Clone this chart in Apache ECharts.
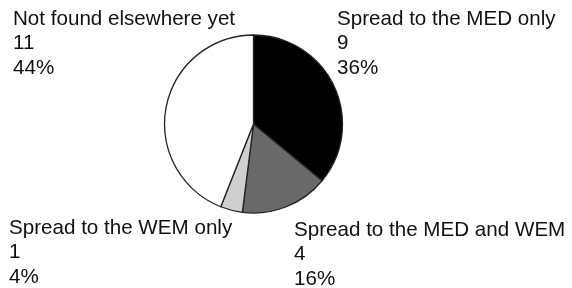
<!DOCTYPE html>
<html>
<head>
<meta charset="utf-8">
<script src="https://cdn.jsdelivr.net/npm/echarts@6/dist/echarts.min.js"></script>
<style>
  html, body { margin: 0; padding: 0; background: #fff; }
  #chart1 { width: 572px; height: 288px; }
</style>
</head>
<body>
<div id="chart1"></div>
<script>
var categories = ['Spread to the MED only', 'Spread to the MED and WEM', 'Spread to the WEM only', 'Not found elsewhere yet'];
var counts = [9, 4, 1, 11];
var sliceColors = ['#000000', '#696969', '#cfcfcf', '#ffffff'];
// where each label block sits (top-left corner)
var labelPos = [[337, 7], [294, 218], [9, 216], [13, 7]];

var dom = document.getElementById('chart1');
var myChart = echarts.init(dom, null, { renderer: 'canvas' });

var option = {
  animation: false,
  series: [
    {
      type: 'pie',
      center: [253.5, 124],
      radius: 89,
      startAngle: 90,
      clockwise: true,
      avoidLabelOverlap: false,
      data: categories.map(function (name, i) {
        return { name: name, value: counts[i], itemStyle: { color: sliceColors[i] } };
      }),
      itemStyle: {
        borderColor: '#222',
        borderWidth: 1.3
      },
      label: {
        show: true,
        formatter: '{b}\n{c}\n{d}%',
        fontFamily: 'Liberation Sans, Arial, sans-serif',
        fontSize: 20.6,
        lineHeight: 24.5,
        color: '#111',
        align: 'left',
        overflow: 'none',
        width: 320
      },
      labelLine: { show: false },
      labelLayout: function (params) {
        var p = labelPos[params.dataIndex];
        return { x: p[0], y: p[1], align: 'left', verticalAlign: 'top' };
      },
      emphasis: { disabled: true }
    }
  ]
};

myChart.setOption(option);
window.addEventListener('resize', myChart.resize);
</script>
</body>
</html>
